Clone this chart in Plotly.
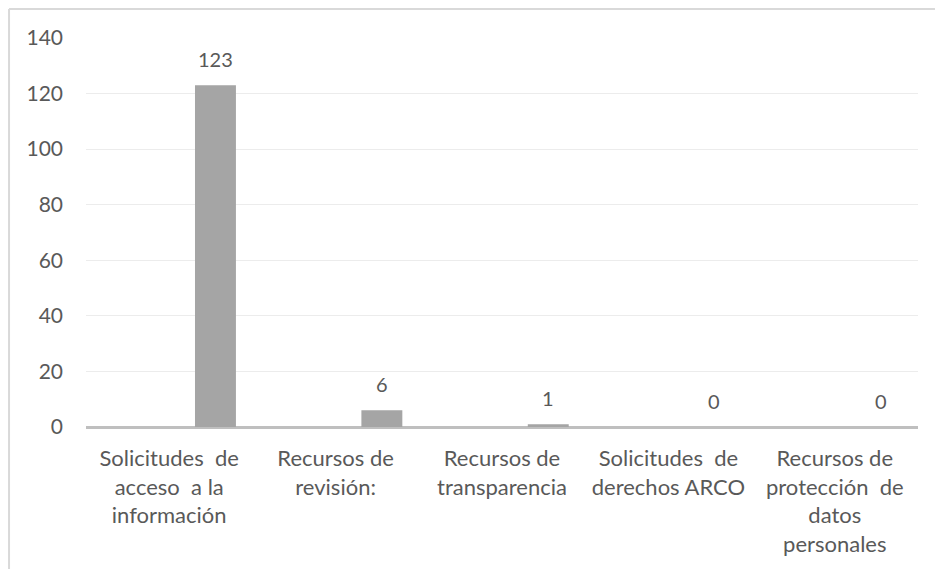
import plotly.graph_objects as go

categories = [
    "Solicitudes  de<br>acceso  a la<br>información",
    "Recursos de<br>revisión:",
    "Recursos de<br>transparencia",
    "Solicitudes  de<br>derechos ARCO",
    "Recursos de<br>protección  de<br>datos<br>personales",
]
values = [123, 6, 1, 0, 0]
y_ticks = [0, 20, 40, 60, 80, 100, 120, 140]

_TEXT = "#595959"
_BAR = "#a5a5a5"
_BORDER = "#d9d9d9"
_FONT = "Lato, Open Sans, sans-serif"

fig = go.Figure()
fig.add_trace(go.Bar(
    x=categories, y=values,
    marker=dict(color=_BAR, line=dict(width=0)),
    offset=0.155, width=0.246,
    showlegend=False,
))

# value labels above each bar
for cat, v in zip(categories, values):
    fig.add_annotation(
        x=cat, y=v, text=str(v), showarrow=False,
        xshift=46, yshift=26,
        font=dict(color=_TEXT, size=20, family=_FONT),
    )

# chart frame: only top and left edges fall inside the picture
frame = [
    dict(type="line", xref="paper", yref="paper",
         x0=-0.0925, x1=1.0204, y0=1.0746, y1=1.0746,
         line=dict(color=_BORDER, width=2), layer="below"),
    dict(type="line", xref="paper", yref="paper",
         x0=-0.0925, x1=-0.0925, y0=-0.37, y1=1.0746,
         line=dict(color=_BORDER, width=2), layer="below"),
]

fig.update_layout(
    width=935, height=569,
    paper_bgcolor="white", plot_bgcolor="white",
    margin=dict(l=86, r=17, t=38, b=142),
    font=dict(family=_FONT, color=_TEXT, size=22),
    shapes=frame,
)
fig.update_xaxes(
    showline=False, showgrid=False, ticks="",
    ticklabelstandoff=16,
    tickfont=dict(size=22, color=_TEXT),
)
fig.update_yaxes(
    range=[0, 140], tickvals=y_ticks,
    showgrid=True, gridcolor="#ececec", gridwidth=1,
    zeroline=True, zerolinecolor="#bfbfbf", zerolinewidth=3,
    ticks="", ticklabelstandoff=22,
    tickfont=dict(size=21, color=_TEXT),
)

# drop the default 8px body margin so the figure fills the window
fig.write_html(
    "out.html",
    config={"displayModeBar": False},
    post_script="document.body.style.margin='0';document.body.style.overflow='hidden';",
)
